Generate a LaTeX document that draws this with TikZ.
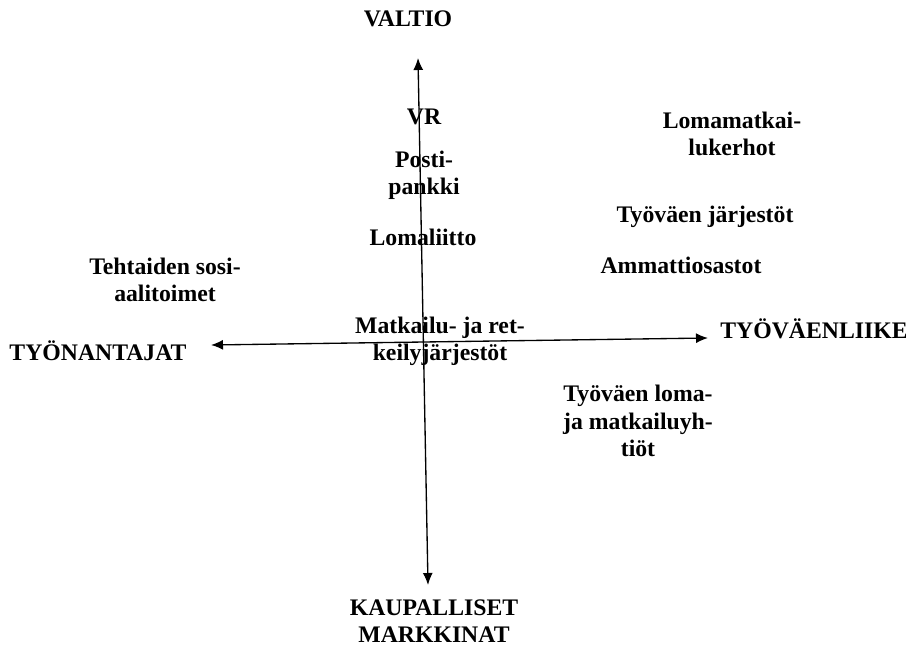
\documentclass[tikz,border=0pt]{standalone}
\usepackage{fontspec}
\setmainfont{Liberation Serif}
\usetikzlibrary{positioning,calc,arrows.meta}

\tikzset{
    lbl/.style={font=\bfseries\fontsize{17.8}{20.5}\selectfont, align=center, inner sep=0pt},
    axis/.style={line width=1pt, {Latex[length=9pt,width=7.5pt]}-{Latex[length=9pt,width=7.5pt]}}
}

\begin{document}
\begin{tikzpicture}[x=0.75pt, y=-0.75pt]
    \useasboundingbox (0,0) rectangle (906,648);

    % axis ends
    \coordinate (top) at (418,58);
    \coordinate (bottom) at (428,585);
    \coordinate (left) at (211,345);
    \coordinate (right) at (708,338);
    \draw[axis] (top) -- (bottom);
    \draw[axis] (left) -- (right);

    % axis labels
    \node[lbl] (valtio) at (408,19) {VALTIO};
    \node[lbl] (kaupalliset) at (434,621) {KAUPALLISET\\MARKKINAT};
    \node[lbl] (tyonantajat) at (98,351) {TYÖNANTAJAT};
    \node[lbl] (tyovaenliike) at (814,329) {TYÖVÄENLIIKE};

    % actors
    \node[lbl] (vr) at (424,117) {VR};
    \node[lbl] (postipankki) at (424,175) {Posti-\\pankki};
    \node[lbl] (lomaliitto) at (423,237) {Lomaliitto};
    \node[lbl] (lomamatkai) at (732,134) {Lomamatkai-\\lukerhot};
    \node[lbl] (jarjestot) at (705,217) {Työväen järjestöt};
    \node[lbl] (ammatti) at (681,265) {Ammattiosastot};
    \node[lbl] (tehtaiden) at (165,280) {Tehtaiden sosi-\\aalitoimet};
    \node[lbl] (matkailu) at (440,341) {Matkailu- ja ret-\\keilyjärjestöt};
    \node[lbl] (loma) at (638,421) {Työväen loma-\\ja matkailuyh-\\tiöt};
\end{tikzpicture}
\end{document}
